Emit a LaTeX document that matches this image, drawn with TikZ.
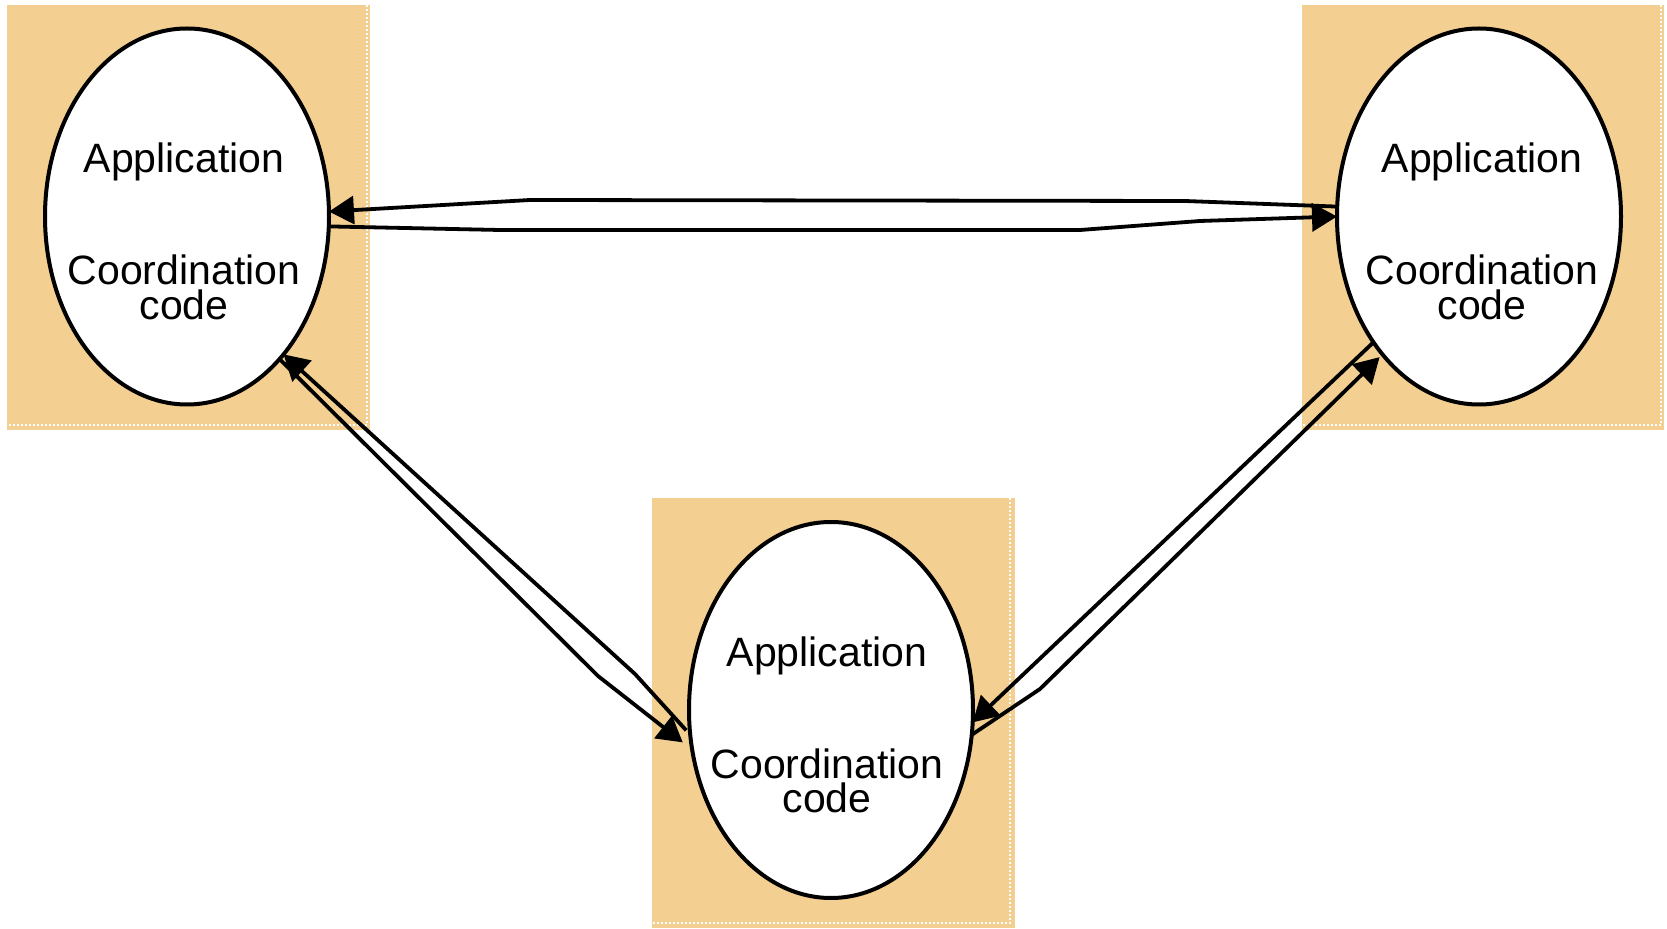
\documentclass[tikz,border=0pt]{standalone}
\usepackage{fontspec}
\setmainfont{Liberation Sans}
\usetikzlibrary{shapes.geometric,arrows.meta,calc}
\definecolor{sandfill}{RGB}{243,207,145}
\begin{document}
\begin{tikzpicture}[x=0.5pt,y=0.5pt,
  site/.style={fill=sandfill,draw=none},
  siteedge/.style={draw=white,line width=0.6pt,dash pattern=on 1pt off 1pt},
  proc/.style={ellipse,draw=black,fill=white,line width=2pt,
    minimum width=142pt,minimum height=188pt,inner sep=0pt,outer sep=0pt},
  lbl/.style={inner sep=0pt,anchor=base,font=\fontsize{20.5pt}{17.5pt}\selectfont},
  link/.style={draw=black,line width=1.9pt,line join=round,
    -{Triangle[length=12.5pt,width=14pt]}},
]
\useasboundingbox (0,0) rectangle (1667,928);

% shaded sites
\fill[site] (7,498) rectangle (370,923);
\fill[site] (1302,498) rectangle (1664,923);
\fill[site] (652,0) rectangle (1015,430);
\draw[siteedge] (367,923) -- (367,503) -- (7,503);
\draw[siteedge] (1661,923) -- (1661,503) -- (1302,503);
\draw[siteedge] (1010,430) -- (1010,5) -- (652,5);

% processes
\node[proc] (L) at (187,711.5) {};
\node[proc] (R) at (1479,711.5) {};
\node[proc] (C) at (831,218) {};

% labels; the two-line label sits on the baseline of its last line
\foreach \n/\dx in {L/-3,R/3,C/-4}{
  \node[lbl] (\n app) at ($(\n.center)+(\dx,43.5)$) {Application};
  \node[lbl,align=center] (\n coord) at ($(\n.center)+(\dx,-103)$) {Coordination\\code};
}

% top pair
\draw[link] (R.176) -- (1185,727) -- (530,728) -- (L.2);
\draw[link] (L.-4) -- (500,698) -- (1080,698) -- (1200,707) -- (R.180);

% left diagonal pair
\draw[link,shorten <=3pt] (C.190) -- (635,254) -- (L.-55);
\draw[link,shorten >=6pt] (L.-57) -- (598,252) -- (C.196);

% right diagonal pair
\draw[link] (R.230) -- (C.-5);
\draw[link,shorten >=2pt] (C.-10) -- (1040,239) -- (R.235);
\end{tikzpicture}
\end{document}
